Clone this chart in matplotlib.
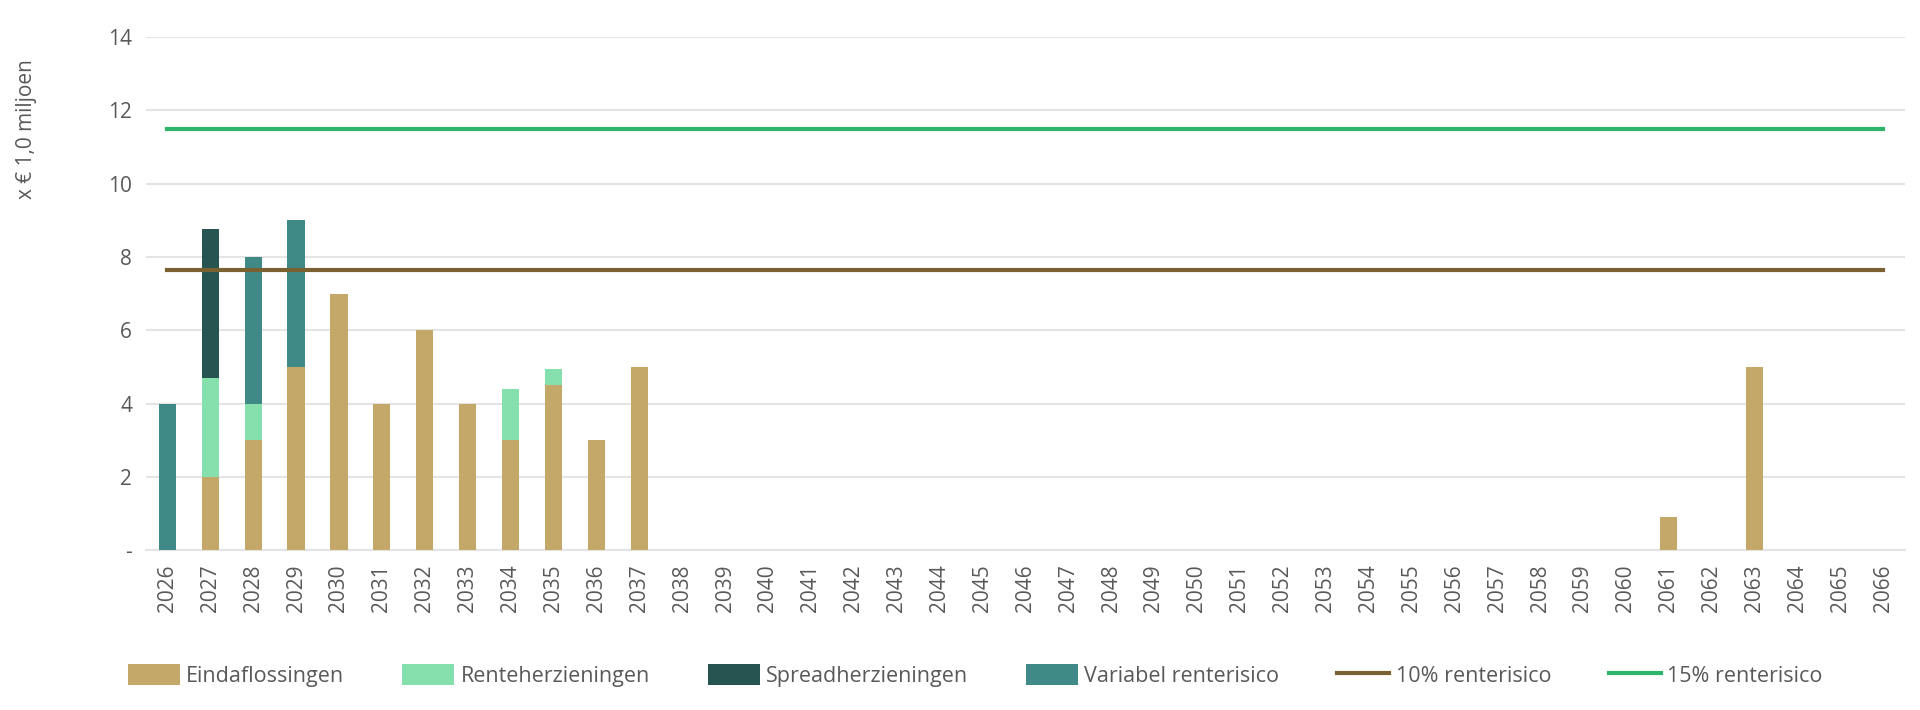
import numpy as np
import matplotlib
matplotlib.use("Agg")
import matplotlib.pyplot as plt

# jaren 2026..2066
years = [str(y) for y in range(2026, 2067)]

# waarden x EUR 1,0 miljoen
eindaflossingen = {"2027": 2, "2028": 3, "2029": 5, "2030": 7, "2031": 4, "2032": 6,
                   "2033": 4, "2034": 3, "2035": 4.5, "2036": 3, "2037": 5,
                   "2061": 0.9, "2063": 5}
renteherzieningen = {"2027": 2.7, "2028": 1, "2034": 1.4, "2035": 0.45}
spreadherzieningen = {"2027": 4.05}
variabel = {"2026": 4, "2028": 4, "2029": 4}
risico_10 = 7.65
risico_15 = 11.5

yticks = [0, 2, 4, 6, 8, 10, 12, 14]
ytick_labels = ["-", "2", "4", "6", "8", "10", "12", "14"]

c_eind = "#C4A86A"
c_rente = "#86E0AE"
c_spread = "#255451"
c_var = "#3F8A87"
c_10 = "#7A6132"
c_15 = "#2DB56B"
grey = "#595959"

plt.rcParams['font.family'] = ['Open Sans', 'DejaVu Sans']

def series(d):
    return np.array([d.get(y, 0) for y in years], dtype=float)

e = series(eindaflossingen)
r = series(renteherzieningen)
s = series(spreadherzieningen)
v = series(variabel)
x = np.arange(len(years))

fig = plt.figure(figsize=(19.2, 7.1), dpi=100)
ax = fig.add_axes([0.076, 0.225, 0.916, 0.723])

w = 0.4
h = []
h.append(ax.bar(x, e, w, color=c_eind, label="Eindaflossingen", zorder=3))
h.append(ax.bar(x, r, w, bottom=e, color=c_rente, label="Renteherzieningen", zorder=3))
h.append(ax.bar(x, s, w, bottom=e + r, color=c_spread, label="Spreadherzieningen", zorder=3))
h.append(ax.bar(x, v, w, bottom=e + r + s, color=c_var, label="Variabel renterisico", zorder=3))
h += ax.plot(x, np.full(len(x), risico_10), color=c_10, lw=3, label="10% renterisico", zorder=4)
h += ax.plot(x, np.full(len(x), risico_15), color=c_15, lw=3, label="15% renterisico", zorder=4)

ax.set_xlim(-0.5, len(x) - 0.5)
ax.set_ylim(0, 14)
ax.set_yticks(yticks)
ax.set_yticklabels(ytick_labels)
ax.set_xticks(x)
ax.set_xticklabels(years, rotation=90)
ax.grid(axis="y", color="#E4E4E4", lw=1.5, zorder=0)
for sp in ["top", "right", "left"]:
    ax.spines[sp].set_visible(False)
ax.spines["bottom"].set_color("#E4E4E4")
ax.spines["bottom"].set_linewidth(1.5)
ax.tick_params(axis="both", length=0, colors=grey, labelsize=15, pad=10)
ax.set_ylabel("x € 1,0 miljoen", color=grey, fontsize=15)
ax.yaxis.set_label_coords(-0.062, 0.82)

fig.legend(handles=h, loc="lower center", bbox_to_anchor=(0.508, 0.005), ncol=6, frameon=False,
           fontsize=15.5, labelcolor=grey, handlelength=2.4, handleheight=1.1,
           columnspacing=2.7, handletextpad=0.3)

fig.savefig("out.png", dpi=100)
